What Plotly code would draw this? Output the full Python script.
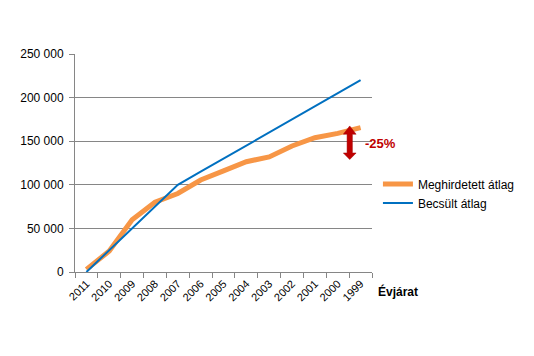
import plotly.graph_objects as go

years = ["2011", "2010", "2009", "2008", "2007", "2006", "2005", "2004",
         "2003", "2002", "2001", "2000", "1999"]
meghirdetett = [3000, 24000, 60000, 80000, 90000, 105500, 116000, 126500,
                132000, 144500, 154000, 159000, 165500]
becsult = [0, 25000, 50000, 75000, 100000, 115000, 130000, 145000,
           160000, 175000, 190000, 205000, 220000]
y_ticks = [0, 50000, 100000, 150000, 200000, 250000]

FONT = "Liberation Sans, Arial, sans-serif"

fig = go.Figure()
fig.add_trace(go.Scatter(x=years, y=meghirdetett, mode="lines",
                         name="Meghirdetett átlag",
                         line=dict(color="#F79646", width=5)))
fig.add_trace(go.Scatter(x=years, y=becsult, mode="lines",
                         name="Becsült átlag",
                         line=dict(color="#0070C0", width=2)))

# double-headed arrow drawn as a path (x in paper coords, y in data coords)
cx, hw, sw = 0.925, 0.0215, 0.0089
y_top, y_hb_top, y_hb_bot, y_bot = 167500, 158000, 136500, 129000
path = (f"M {cx} {y_top} L {cx+hw} {y_hb_top} L {cx+sw} {y_hb_top} "
        f"L {cx+sw} {y_hb_bot} L {cx+hw} {y_hb_bot} L {cx} {y_bot} "
        f"L {cx-hw} {y_hb_bot} L {cx-sw} {y_hb_bot} L {cx-sw} {y_hb_top} "
        f"L {cx-hw} {y_hb_top} Z")
fig.add_shape(type="path", path=path, xref="paper", yref="y",
              fillcolor="#C00000", line=dict(color="#A00000", width=0.5))

fig.add_annotation(x=1.0, y=147000, xref="paper", yref="y", xanchor="left",
                   text="<b>-25%</b>", showarrow=False, xshift=-9,
                   font=dict(family=FONT, size=13, color="#C00000"))
fig.add_annotation(x=1.0, y=0, xref="paper", yref="paper", xanchor="left",
                   yanchor="top", yshift=-10, xshift=4,
                   text="<b>Évjárat</b>", showarrow=False,
                   font=dict(family=FONT, size=12, color="#000000"))

fig.update_layout(
    width=526, height=348,
    margin=dict(l=62, r=162, t=46, b=84),
    paper_bgcolor="white", plot_bgcolor="white",
    separators=", ",
    font=dict(family=FONT, size=12, color="#000000"),
    legend=dict(x=1.02, y=0.47, xanchor="left", yanchor="top",
                font=dict(family=FONT, size=12), bgcolor="rgba(0,0,0,0)",
                tracegroupgap=0),
    showlegend=True,
)
fig.update_xaxes(type="category", categoryorder="array", categoryarray=years,
                 range=[-0.5, 12.5], tickangle=-45, tickson="boundaries",
                 ticks="outside", ticklen=5, tickcolor="#868686",
                 showline=True, linecolor="#868686", linewidth=1,
                 showgrid=False, tickfont=dict(family=FONT, size=11))
fig.update_yaxes(range=[0, 250000], tickvals=y_ticks, tickformat=",d",
                 ticks="outside", ticklen=5, tickcolor="#868686",
                 showline=True, linecolor="#868686", linewidth=1,
                 showgrid=True, gridcolor="#868686", gridwidth=1,
                 zeroline=False, ticklabelstandoff=3,
                 tickfont=dict(family=FONT, size=12))

fig.write_html("out.html")
